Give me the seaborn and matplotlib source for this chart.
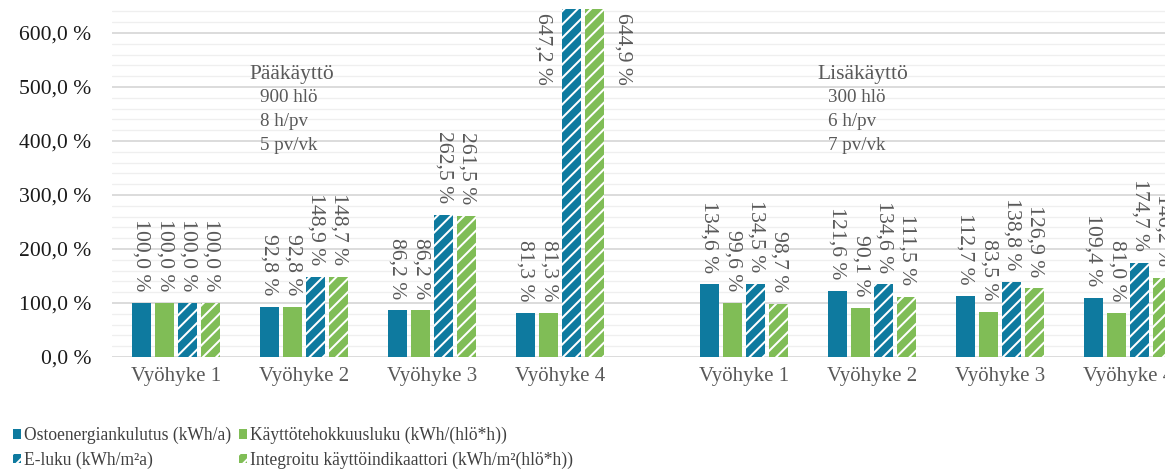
import numpy as np
import pandas as pd
import matplotlib
matplotlib.use("Agg")
import matplotlib.pyplot as plt
import matplotlib.patches as mpatches
from matplotlib.ticker import MultipleLocator, FuncFormatter
import seaborn as sns

# --- data -------------------------------------------------------------
zones = ["Vyöhyke 1", "Vyöhyke 2", "Vyöhyke 3", "Vyöhyke 4"]
use_profiles = ["Pääkäyttö", "Lisäkäyttö"]
profile_notes = [["900 hlö", "8 h/pv", "5 pv/vk"],
                 ["300 hlö", "6 h/pv", "7 pv/vk"]]
series_names = [
    "Ostoenergiankulutus (kWh/a)",
    "Käyttötehokkuusluku (kWh/(hlö*h))",
    "E-luku (kWh/m²a)",
    "Integroitu käyttöindikaattori (kWh/m²(hlö*h))",
]
# values per zone, Pääkäyttö zones first, then Lisäkäyttö zones (%)
ostoenergia = [100.0, 92.8, 86.2, 81.3, 134.6, 121.6, 112.7, 109.4]
kayttotehokkuus = [100.0, 92.8, 86.2, 81.3, 99.6, 90.1, 83.5, 81.0]
e_luku = [100.0, 148.9, 262.5, 647.2, 134.5, 134.6, 138.8, 174.7]
integroitu = [100.0, 148.7, 261.5, 644.9, 98.7, 111.5, 126.9, 146.2]

# --- style ------------------------------------------------------------
sns.set_style("white")
plt.rcParams["font.family"] = "serif"
plt.rcParams["font.serif"] = ["Liberation Serif", "DejaVu Serif"]
plt.rcParams["hatch.linewidth"] = 1.2

BLUE = "#0e7a9f"
GREEN = "#80bd56"
palette = [BLUE, GREEN, BLUE, GREEN]
hatched = [False, False, True, True]
TXT = "#595959"

# x layout: two blocks of zones with a wider gap between them
block_gap = 1.4375
n = len(zones)
positions = [k + b * (n - 1 + block_gap) for b in range(len(use_profiles)) for k in range(n)]
tick_labels = zones * len(use_profiles)

all_series = [ostoenergia, kayttotehokkuus, e_luku, integroitu]
rows = []
for name, vals in zip(series_names, all_series):
    for p, v in zip(positions, vals):
        rows.append({"pos": p, "series": name, "value": v})
df = pd.DataFrame(rows)

YMAX = 644
DPI = 120
px_per_unit = 0.54  # vertical pixels per percent
fig = plt.figure(figsize=(1165 / DPI, 472 / DPI), dpi=DPI)
ax = fig.add_axes([112 / 1165, 115 / 472, 1 - 112 / 1165, YMAX * px_per_unit / 472])

sns.barplot(data=df, x="pos", y="value", hue="series", hue_order=series_names,
            palette=palette, saturation=1, native_scale=True, width=0.72, gap=0.2,
            linewidth=0, errorbar=None, legend=False, ax=ax)

ax.set_ylim(0, YMAX)
ax.set_xlim(-0.5, (1165 - 176) / 128)

for cont, hat in zip(ax.containers, hatched):
    if hat:
        for bar in cont:
            bar.set_hatch("///")
            bar.set_edgecolor("white")
            bar.set_linewidth(0)

# value labels
def pct(v):
    return f"{v:.1f}".replace(".", ",") + " %"

for si, (cont, vals) in enumerate(zip(ax.containers, all_series)):
    for bar, v in zip(cont, vals):
        cx = bar.get_x() + bar.get_width() / 2
        if v <= YMAX:
            ax.annotate(pct(v), (cx, v), xytext=(0, 7), textcoords="offset points",
                        rotation=270, ha="center", va="bottom", fontsize=13,
                        color=TXT, annotation_clip=False)
        else:
            # bar runs past the top of the axis: put its label beside the bar
            dx = -17 if si % 2 == 0 else 17
            ax.annotate(pct(v), (cx, YMAX), xytext=(dx, -2), textcoords="offset points",
                        rotation=270, ha="center", va="top", fontsize=13,
                        color=TXT, annotation_clip=False)

# profile descriptions
for b, (title, notes) in enumerate(zip(use_profiles, profile_notes)):
    x0 = positions[b * n]
    ax.text(x0 + 0.575, 524, title, fontsize=12.9, color=TXT, ha="left", va="center")
    for j, note in enumerate(notes):
        ax.text(x0 + 0.66, [480, 437, 391][j], note, fontsize=11.4, color=TXT,
                ha="left", va="center")

# axes styling
ax.yaxis.set_minor_locator(MultipleLocator(20))
ax.yaxis.set_major_formatter(FuncFormatter(lambda v, _: pct(v)))
ax.set_yticks(np.arange(0, 601, 100))
ax.grid(axis="y", which="major", color="#d9d9d9", linewidth=1.1)
ax.grid(axis="y", which="minor", color="#efefef", linewidth=0.8)
ax.grid(axis="x", visible=False)
ax.set_axisbelow(True)
for s in ax.spines.values():
    s.set_visible(False)
ax.set_xticks(positions)
ax.set_xticklabels(tick_labels)
ax.tick_params(axis="x", length=0, pad=6, labelsize=12.5, labelcolor=TXT)
ax.tick_params(axis="y", which="both", length=0, pad=12.5, labelsize=13, labelcolor="#1a1a1a")
ax.set_xlabel("")
ax.set_ylabel("")

# legend (column-first order gives the two rows)
handles = []
for name, col, hat in zip(series_names, palette, hatched):
    if hat:
        handles.append(mpatches.Patch(facecolor=col, hatch="///", edgecolor="white",
                                      linewidth=0, label=name))
    else:
        handles.append(mpatches.Patch(facecolor=col, linewidth=0, label=name))
order = [0, 2, 1, 3]
fig.legend([handles[i] for i in order], [series_names[i] for i in order],
           ncol=2, loc="lower left", bbox_to_anchor=(0.005, -0.008),
           frameon=False, fontsize=10.5, handlelength=0.46, handleheight=0.46,
           handletextpad=0.15, columnspacing=0.5, labelspacing=0.4,
           borderaxespad=0, labelcolor="#404040")

fig.savefig("out.png", dpi=DPI)
